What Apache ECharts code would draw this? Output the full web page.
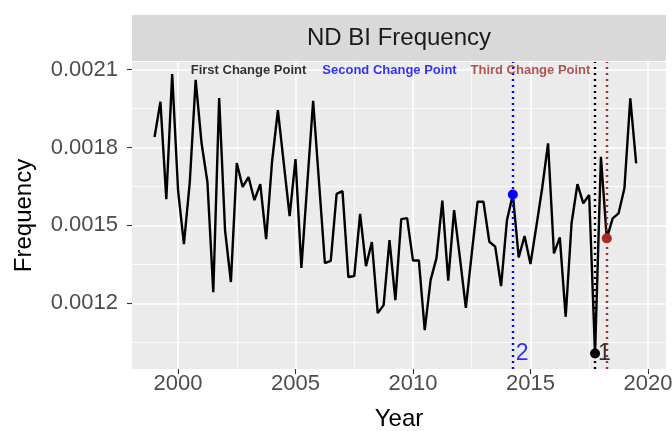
<!DOCTYPE html>
<html>
<head>
<meta charset="utf-8">
<script src="https://cdn.jsdelivr.net/npm/echarts@6/dist/echarts.min.js"></script>
<style>html,body{margin:0;padding:0;background:#fff}#c{width:672px;height:431px}</style>
</head>
<body>
<div id="c"></div>
<script>
// ---- data ----
const startYear = 1999;          // first quarter (Q1 1999)
const stepYears = 0.25;          // quarterly observations
const frequency = [
  0.001840, 0.001976, 0.001601, 0.002083, 0.001636, 0.001428, 0.001667, 0.002060,
  0.001817, 0.001667, 0.001243, 0.001990, 0.001482, 0.001282, 0.001740, 0.001648,
  0.001686, 0.001597, 0.001659, 0.001447, 0.001744, 0.001944, 0.001740, 0.001536,
  0.001755, 0.001336, 0.001659, 0.001979, 0.001667, 0.001355, 0.001363, 0.001621,
  0.001632, 0.001301, 0.001305, 0.001544, 0.001343, 0.001436, 0.001162, 0.001193,
  0.001443, 0.001212, 0.001524, 0.001528, 0.001365, 0.001365, 0.001097, 0.001289,
  0.001374, 0.001595, 0.001287, 0.001559, 0.001374, 0.001182, 0.001390, 0.001591,
  0.001591, 0.001437, 0.001418, 0.001266, 0.001520, 0.001619, 0.001377, 0.001459,
  0.001351, 0.001495, 0.001644, 0.001816, 0.001392, 0.001454, 0.001148, 0.001508,
  0.001659, 0.001585, 0.001617, 0.001007, 0.001764, 0.001450, 0.001527, 0.001546,
  0.001643, 0.001989, 0.001739
];
const changePoints = [2017.75, 2014.25, 2018.25];          // first, second, third
const changeColors = ['#000000', '#0000FF', '#A52A2A'];
const changeTitles = ['First Change Point', 'Second Change Point', 'Third Change Point'];
const titleYears = [2003, 2009, 2015];
const titleLevel = 0.002098;
const cpNumbers = [{year: 2014.25, text: '2', color: '#0000FF'}, {year: 2017.75, text: '1', color: '#000000'}];
const xTicks = [2000, 2005, 2010, 2015, 2020];
const xMinor = [2002.5, 2007.5, 2012.5, 2017.5];
const yTicks = [0.0012, 0.0015, 0.0018, 0.0021];
const yMinor = [0.00105, 0.00135, 0.00165, 0.00195];
const xRange = [1998.04, 2020.77];
const yRange = [0.000947, 0.002129];
const stripTitle = 'ND BI Frequency';

// ---- build ----
const series = frequency.map((v, i) => [startYear + i * stepYears, v]);
const valueAt = yr => frequency[Math.round((yr - startYear) / stepYears)];
const minVal = Math.min(...frequency);
const FONT = 'Liberation Sans, Arial, sans-serif';

const W = 672, H = 431;
const chart = echarts.init(document.getElementById('c'), null, {renderer: 'canvas', width: W, height: H});
const gridL = 132, gridR = 6, gridT = 62, gridB = 62;
const stripTop = 15, stripH = 46;

chart.setOption({
  animation: false,
  backgroundColor: '#ffffff',
  grid: {left: gridL, right: gridR, top: gridT, bottom: gridB, show: true, backgroundColor: '#EBEBEB', borderWidth: 0,
         containLabel: false, outerBoundsMode: 'none'},
  graphic: [
    {type: 'rect', x: gridL, y: stripTop, shape: {width: W - gridL - gridR, height: stripH}, style: {fill: '#D9D9D9'}, silent: true},
    {type: 'text', x: gridL + (W - gridL - gridR) / 2, y: stripTop + stripH / 2, silent: true,
     style: {text: stripTitle, font: '24px ' + FONT, fill: '#1A1A1A', textAlign: 'center', textVerticalAlign: 'middle'}}
  ],
  xAxis: [
    {type: 'value', min: xRange[0], max: xRange[1], position: 'bottom',
     axisLine: {show: false},
     axisTick: {show: true, length: 5, lineStyle: {color: '#333333', width: 1.1}, customValues: xTicks},
     axisLabel: {customValues: xTicks, fontSize: 22, color: '#4D4D4D', fontFamily: FONT, margin: 4, formatter: v => String(Math.round(v))},
     splitLine: {show: true, lineStyle: {color: '#FFFFFF', width: 1.6}},
     name: 'Year', nameLocation: 'middle', nameGap: 38,
     nameTextStyle: {fontSize: 24, color: '#000000', fontFamily: FONT}},
    {type: 'value', min: xRange[0], max: xRange[1], position: 'bottom',
     axisLine: {show: false},
     axisTick: {show: false, customValues: xMinor},
     axisLabel: {show: false, customValues: xMinor},
     splitLine: {show: true, lineStyle: {color: '#FFFFFF', width: 0.8}}}
  ],
  yAxis: [
    {type: 'value', min: yRange[0], max: yRange[1],
     axisLine: {show: false},
     axisTick: {show: true, length: 5, lineStyle: {color: '#333333', width: 1.1}, customValues: yTicks},
     axisLabel: {customValues: yTicks, fontSize: 22, color: '#4D4D4D', fontFamily: FONT, margin: 14, formatter: v => v.toFixed(4)},
     splitLine: {show: true, lineStyle: {color: '#FFFFFF', width: 1.6}},
     name: 'Frequency', nameLocation: 'middle', nameGap: 96, nameRotate: 90,
     nameTextStyle: {fontSize: 24, color: '#000000', fontFamily: FONT}},
    {type: 'value', min: yRange[0], max: yRange[1],
     axisLine: {show: false},
     axisTick: {show: false, customValues: yMinor},
     axisLabel: {show: false, customValues: yMinor},
     splitLine: {show: true, lineStyle: {color: '#FFFFFF', width: 0.8}}}
  ],
  series: [
    {type: 'line', data: series, xAxisIndex: 0, yAxisIndex: 0, showSymbol: false, symbol: 'none',
     lineStyle: {color: '#000000', width: 2.4}, z: 3,
     markLine: {silent: true, symbol: ['none', 'none'], label: {show: false},
       data: changePoints.map((cp, k) => ({xAxis: cp, lineStyle: {color: changeColors[k], type: [2, 4], width: 2.4}}))}},
    {type: 'scatter', xAxisIndex: 0, yAxisIndex: 0, z: 5, symbolSize: 10,
     data: changePoints.map((cp, k) => ({value: [cp, valueAt(cp)], itemStyle: {color: changeColors[k], opacity: 1}}))},
    {type: 'scatter', xAxisIndex: 0, yAxisIndex: 0, z: 6, symbolSize: 0,
     data: changeTitles.map((t, k) => ({value: [titleYears[k], titleLevel], name: t,
       label: {show: true, position: 'inside', formatter: t, color: changeColors[k], fontWeight: 'bold', fontSize: 13, fontFamily: FONT}}))},
    {type: 'scatter', xAxisIndex: 0, yAxisIndex: 0, z: 6, symbolSize: 0,
     data: cpNumbers.map(c => ({value: [c.year, minVal], label: {show: true, position: 'right', distance: 3, formatter: c.text, color: c.color, fontSize: 23, fontFamily: FONT}}))}
  ]
});
</script>
</body>
</html>
